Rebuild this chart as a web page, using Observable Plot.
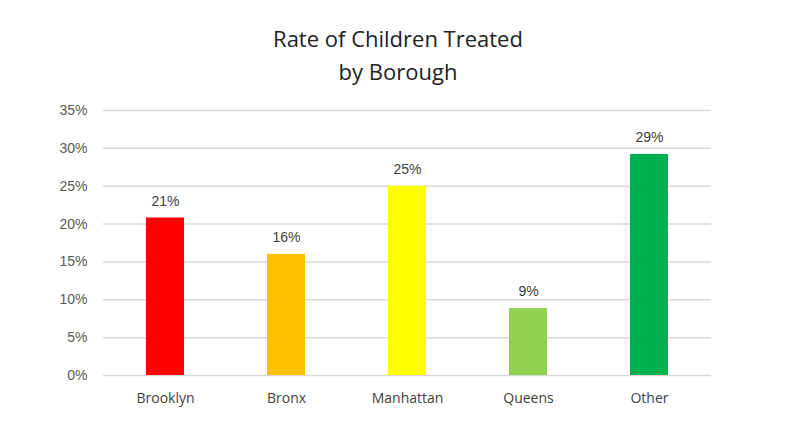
<!DOCTYPE html>
<html>
<head>
<meta charset="utf-8">
<script src="https://cdn.jsdelivr.net/npm/d3@7"></script>
<script src="https://cdn.jsdelivr.net/npm/@observablehq/plot@0.6"></script>
<style>
  html, body { margin: 0; padding: 0; background: #fff; }
  #wrap { width: 796px; height: 439px; overflow: hidden; }
  #title { height: 95px; box-sizing: border-box; padding-top: 22px; text-align: center;
           font-family: "Open Sans", "Noto Sans", sans-serif; font-size: 22px; line-height: 33px; color: #222; }
</style>
</head>
<body>
<div id="wrap">
  <div id="title">Rate of Children Treated<br>by Borough</div>
  <div id="chart"></div>
</div>
<script>
const boroughs = ["Brooklyn", "Bronx", "Manhattan", "Queens", "Other"];
const rates = [0.208, 0.160, 0.250, 0.0885, 0.292];
const colors = ["#FF0000", "#FFC000", "#FFFF00", "#92D050", "#00B050"];
const yTicks = [0, 0.05, 0.10, 0.15, 0.20, 0.25, 0.30, 0.35];

const data = boroughs.map((b, i) => ({borough: b, rate: rates[i], color: colors[i]}));

const chart = Plot.plot({
  width: 796,
  height: 344,
  marginTop: 15,
  marginBottom: 64,
  marginLeft: 103,
  marginRight: 85,
  style: {fontFamily: "'Liberation Sans', Arial, sans-serif", fontSize: "14px", color: "#595959", background: "#fff"},
  x: {domain: boroughs, paddingInner: 0.69, paddingOuter: 0.345, label: null},
  y: {domain: [0, 0.35], ticks: yTicks, label: null, tickFormat: d => Math.round(d * 100) + "%"},
  marks: [
    Plot.gridY(yTicks, {stroke: "#d9d9d9", strokeOpacity: 1, strokeWidth: 1.5}),
    Plot.barY(data, {x: "borough", y: "rate", fill: "color"}),
    Plot.axisY(yTicks, {tickSize: 0, tickPadding: 16, fontSize: 14, fill: "#595959", tickFormat: d => Math.round(d * 100) + "%", label: null}),
    Plot.axisX({tickSize: 0, tickPadding: 18, fontSize: 14, fill: "#404040", fontFamily: "'Open Sans', 'Noto Sans', sans-serif", label: null}),
    Plot.text(data, {x: "borough", y: "rate", text: d => Math.round(d.rate * 100) + "%", lineAnchor: "bottom", dy: -12, fontSize: 14, fill: "#404040"})
  ]
});
document.getElementById("chart").appendChild(chart);
</script>
</body>
</html>
